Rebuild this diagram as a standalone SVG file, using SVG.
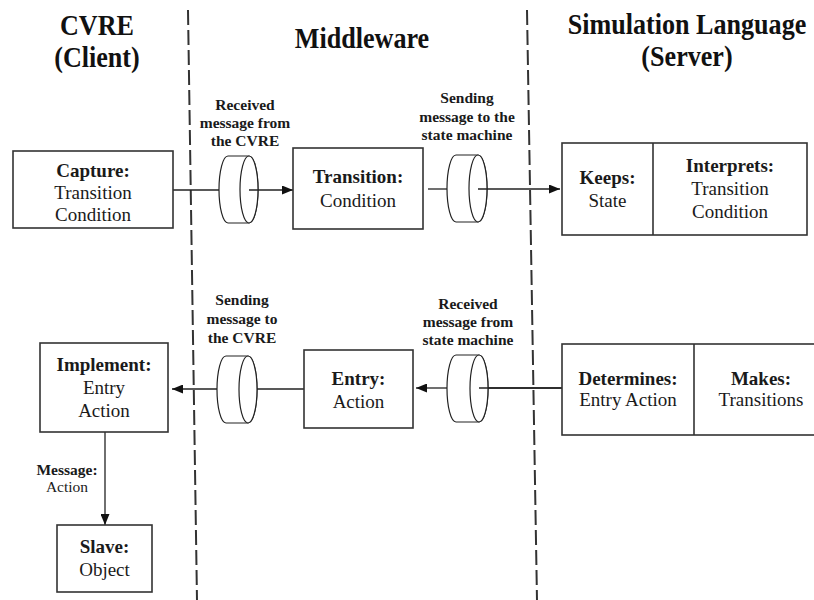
<svg xmlns="http://www.w3.org/2000/svg" width="814" height="600" viewBox="0 0 814 600">
<defs>
<style>
.box{fill:#fff;stroke:#333;stroke-width:1.6}
.cyl{fill:#fff;stroke:#222;stroke-width:1.2}
.ln{fill:none;stroke:#222;stroke-width:1.3}
.dash{fill:none;stroke:#333;stroke-width:2;stroke-dasharray:15 5}
.hd{font-family:"Liberation Serif","Times New Roman",serif;font-weight:bold;font-size:30px;fill:#111;text-anchor:middle}
.t{font-family:"Liberation Serif","Times New Roman",serif;font-size:19px;fill:#1a1a1a;text-anchor:middle}
.b{font-weight:bold}
.lb{font-family:"Liberation Serif","Times New Roman",serif;font-weight:bold;font-size:15.5px;fill:#1a1a1a;text-anchor:middle}
</style>
<marker id="ah" markerUnits="userSpaceOnUse" markerWidth="11" markerHeight="9" refX="11" refY="4.5" orient="auto">
<path d="M0,0 L11,4.5 L0,9 z" fill="#111"/>
</marker>
</defs>
<rect width="814" height="600" fill="#fff"/>

<g id="headers">
<text class="hd" transform="translate(97,35) scale(0.87,1)">CVRE</text>
<text class="hd" transform="translate(97,67) scale(0.87,1)">(Client)</text>
<text class="hd" transform="translate(362,48) scale(0.87,1)">Middleware</text>
<text class="hd" transform="translate(687,34) scale(0.87,1)">Simulation Language</text>
<text class="hd" transform="translate(687,66) scale(0.87,1)">(Server)</text>
</g>

<g id="swimlanes">
<line class="dash" x1="188" y1="10" x2="197" y2="600"/>
<line class="dash" x1="527" y1="10" x2="537" y2="600"/>
</g>

<g id="connectors">
<line class="ln" x1="173" y1="190" x2="219" y2="190"/>
<line class="ln" x1="428" y1="189" x2="447" y2="189"/>
<line class="ln" x1="304" y1="389" x2="257" y2="389"/>
<line class="ln" x1="562" y1="388" x2="488" y2="388"/>
<line class="ln" x1="105" y1="432" x2="105" y2="525" marker-end="url(#ah)"/>
</g>

<g id="queue1">
<path class="cyl" d="M228,156 H249 A9,33.5 0 0 1 249,223 H228 A9,33.5 0 0 1 228,156 Z"/>
<ellipse class="cyl" cx="249" cy="189.5" rx="9" ry="33.5"/>
<line class="ln" x1="249" y1="190" x2="293" y2="190" marker-end="url(#ah)"/>
<text class="lb" x="245" y="110">Received</text>
<text class="lb" x="245" y="128">message from</text>
<text class="lb" x="245" y="146">the CVRE</text>
</g>

<g id="queue2">
<path class="cyl" d="M456,155 H478 A9,33.5 0 0 1 478,222 H456 A9,33.5 0 0 1 456,155 Z"/>
<ellipse class="cyl" cx="478" cy="188.5" rx="9" ry="33.5"/>
<line class="ln" x1="478" y1="189" x2="560" y2="189" marker-end="url(#ah)"/>
<text class="lb" x="467" y="103">Sending</text>
<text class="lb" x="467" y="122">message to the</text>
<text class="lb" x="467" y="140">state machine</text>
</g>

<g id="queue3">
<path class="cyl" d="M226,356 H248 A9,33.5 0 0 1 248,423 H226 A9,33.5 0 0 1 226,356 Z"/>
<ellipse class="cyl" cx="248" cy="389.5" rx="9" ry="33.5"/>
<line class="ln" x1="217" y1="389" x2="172" y2="389" marker-end="url(#ah)"/>
<text class="lb" x="242" y="305">Sending</text>
<text class="lb" x="242" y="324">message to</text>
<text class="lb" x="242" y="343">the CVRE</text>
</g>

<g id="queue4">
<path class="cyl" d="M456,355 H479 A9,33.5 0 0 1 479,422 H456 A9,33.5 0 0 1 456,355 Z"/>
<ellipse class="cyl" cx="479" cy="388.5" rx="9" ry="33.5"/>
<line class="ln" x1="479" y1="388" x2="562" y2="388"/>
<line class="ln" x1="447" y1="388" x2="416" y2="388" marker-end="url(#ah)"/>
<text class="lb" x="468" y="309">Received</text>
<text class="lb" x="468" y="327">message from</text>
<text class="lb" x="468" y="345">state machine</text>
</g>

<g id="capture">
<rect class="box" x="13" y="151" width="160" height="77"/>
<text class="t b" x="93" y="177">Capture:</text>
<text class="t" x="93" y="199">Transition</text>
<text class="t" x="93" y="221">Condition</text>
</g>

<g id="transition">
<rect class="box" x="293" y="148" width="130" height="81"/>
<text class="t b" x="358" y="183">Transition:</text>
<text class="t" x="358" y="207">Condition</text>
</g>

<g id="server-top">
<rect class="box" x="562" y="143" width="245" height="92"/>
<line class="box" x1="653" y1="143" x2="653" y2="235"/>
<text class="t b" x="607.5" y="184">Keeps:</text>
<text class="t" x="607.5" y="207">State</text>
<text class="t b" x="730" y="172">Interprets:</text>
<text class="t" x="730" y="195">Transition</text>
<text class="t" x="730" y="218">Condition</text>
</g>

<g id="implement">
<rect class="box" x="40" y="343" width="128" height="89"/>
<text class="t b" x="104" y="371">Implement:</text>
<text class="t" x="104" y="394">Entry</text>
<text class="t" x="104" y="417">Action</text>
</g>

<g id="entry">
<rect class="box" x="304" y="350" width="109" height="78"/>
<text class="t b" x="358.5" y="385">Entry:</text>
<text class="t" x="358.5" y="408">Action</text>
</g>

<g id="server-bottom">
<rect class="box" x="562" y="344" width="270" height="91"/>
<line class="box" x1="694" y1="344" x2="694" y2="435"/>
<text class="t b" x="628" y="385">Determines:</text>
<text class="t" x="628" y="406">Entry Action</text>
<text class="t b" x="761" y="385">Makes:</text>
<text class="t" x="761" y="406">Transitions</text>
</g>

<g id="message-label">
<text class="lb" x="67" y="475">Message:</text>
<text class="lb" x="67" y="492" style="font-weight:normal">Action</text>
</g>

<g id="slave">
<rect class="box" x="57" y="525" width="95" height="67"/>
<text class="t b" x="104.5" y="553">Slave:</text>
<text class="t" x="104.5" y="576">Object</text>
</g>
</svg>
